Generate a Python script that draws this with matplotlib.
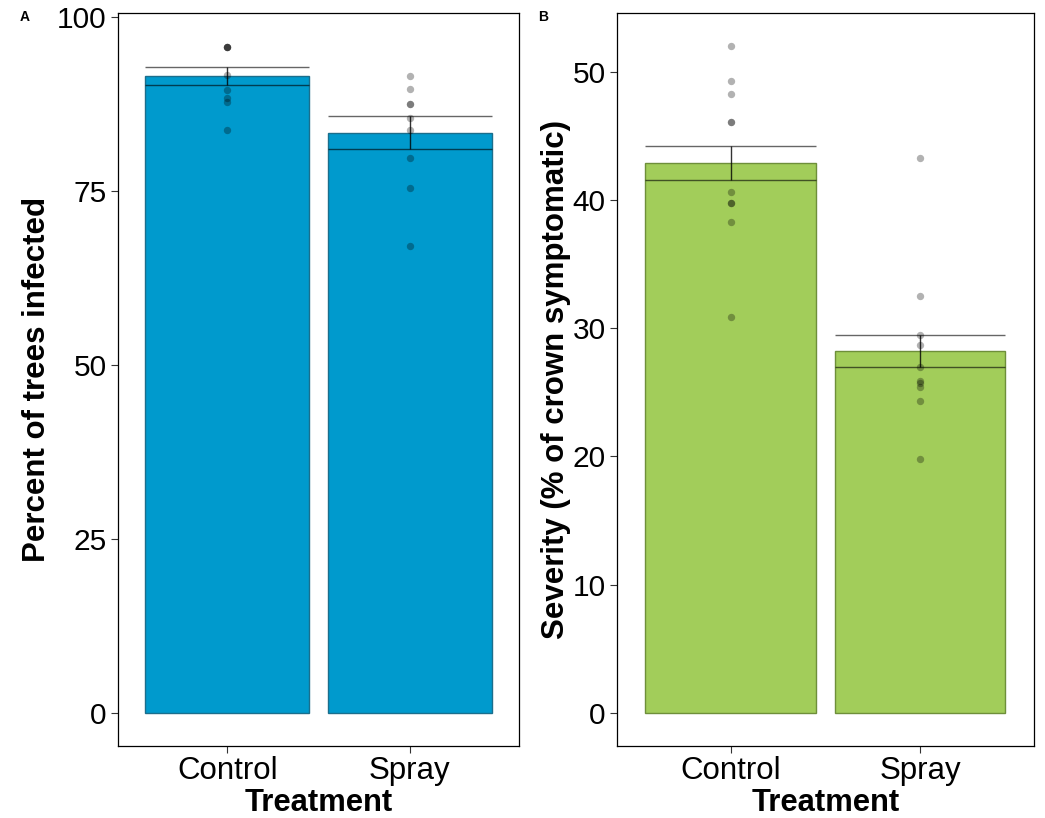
import numpy as np
import matplotlib.pyplot as plt

plt.rcParams['font.family'] = ['Liberation Sans', 'DejaVu Sans']

treatments = ['Control', 'Spray']

# panel A: percent of trees infected
inf_mean = [91.5, 83.4]
inf_se = [1.3, 2.35]
inf_control = [95.7, 95.7, 95.7, 95.7, 91.7, 89.5, 88.4, 87.8, 83.8]
inf_spray = [91.6, 89.7, 87.5, 87.5, 85.5, 83.8, 79.7, 75.4, 67.1]

# panel B: severity
sev_mean = [42.9, 28.2]
sev_se = [1.35, 1.25]
sev_control = [52.0, 49.3, 48.3, 46.1, 46.1, 40.6, 39.8, 39.8, 38.3, 30.9]
sev_spray = [43.3, 32.5, 29.5, 28.7, 27.0, 25.9, 25.7, 25.4, 24.3, 19.8]


def panel(ax, means, ses, pts, fill, edge, ylim, yticks, ylabel, ypad):
    x = np.arange(1, len(treatments) + 1)
    ax.bar(x, means, width=0.9, color=fill, edgecolor=edge, linewidth=1, zorder=1)
    for xi, m, s in zip(x, means, ses):
        ax.hlines([m - s, m + s], xi - 0.45, xi + 0.45, color='black', alpha=0.6, lw=1, zorder=2)
        ax.vlines(xi, m - s, m + s, color='black', alpha=0.8, lw=1, zorder=2)
    for xi, vals in zip(x, pts):
        ax.plot([xi] * len(vals), vals, 'o', color='black', alpha=0.3, ms=5.3, mew=0, zorder=3)
    ax.set_xlim(0.4, 2.6)
    ax.set_ylim(*ylim)
    ax.set_yticks(yticks)
    ax.set_xticks(x)
    ax.set_xticklabels(treatments)
    ax.tick_params(labelsize=21.5, length=5, width=0.8, color='#333333', pad=3)
    ax.tick_params(axis='x', labelsize=22.5, pad=2)
    for sp in ax.spines.values():
        sp.set_linewidth(0.9)
        sp.set_color('black')
    ax.set_xlabel('Treatment', fontsize=22.3, fontweight='bold', labelpad=1.5)
    ax.set_ylabel(ylabel, fontsize=22.5, fontweight='bold', labelpad=ypad)


fig = plt.figure(figsize=(10.45, 8.18), dpi=100)
ax1 = fig.add_axes([0.1129, 0.088, 0.3837, 0.896])
ax2 = fig.add_axes([0.5904, 0.088, 0.3990, 0.896])

panel(ax1, inf_mean, inf_se, [inf_control, inf_spray], '#009ACD', '#1B6E8C',
      (-4.8, 100.6), [0, 25, 50, 75, 100], 'Percent of trees infected', 3.5)
panel(ax2, sev_mean, sev_se, [sev_control, sev_spray], '#A2CD5A', '#6E8F3A',
      (-2.6, 54.6), [0, 10, 20, 30, 40, 50], 'Severity (% of crown symptomatic)', 1)

fig.text(25 / 1045, 1 - 17 / 818, 'A', fontsize=10, fontweight='bold', ha='center', va='center')
fig.text(543 / 1045, 1 - 17 / 818, 'B', fontsize=10, fontweight='bold', ha='center', va='center')

fig.savefig('out.png', dpi=100)
